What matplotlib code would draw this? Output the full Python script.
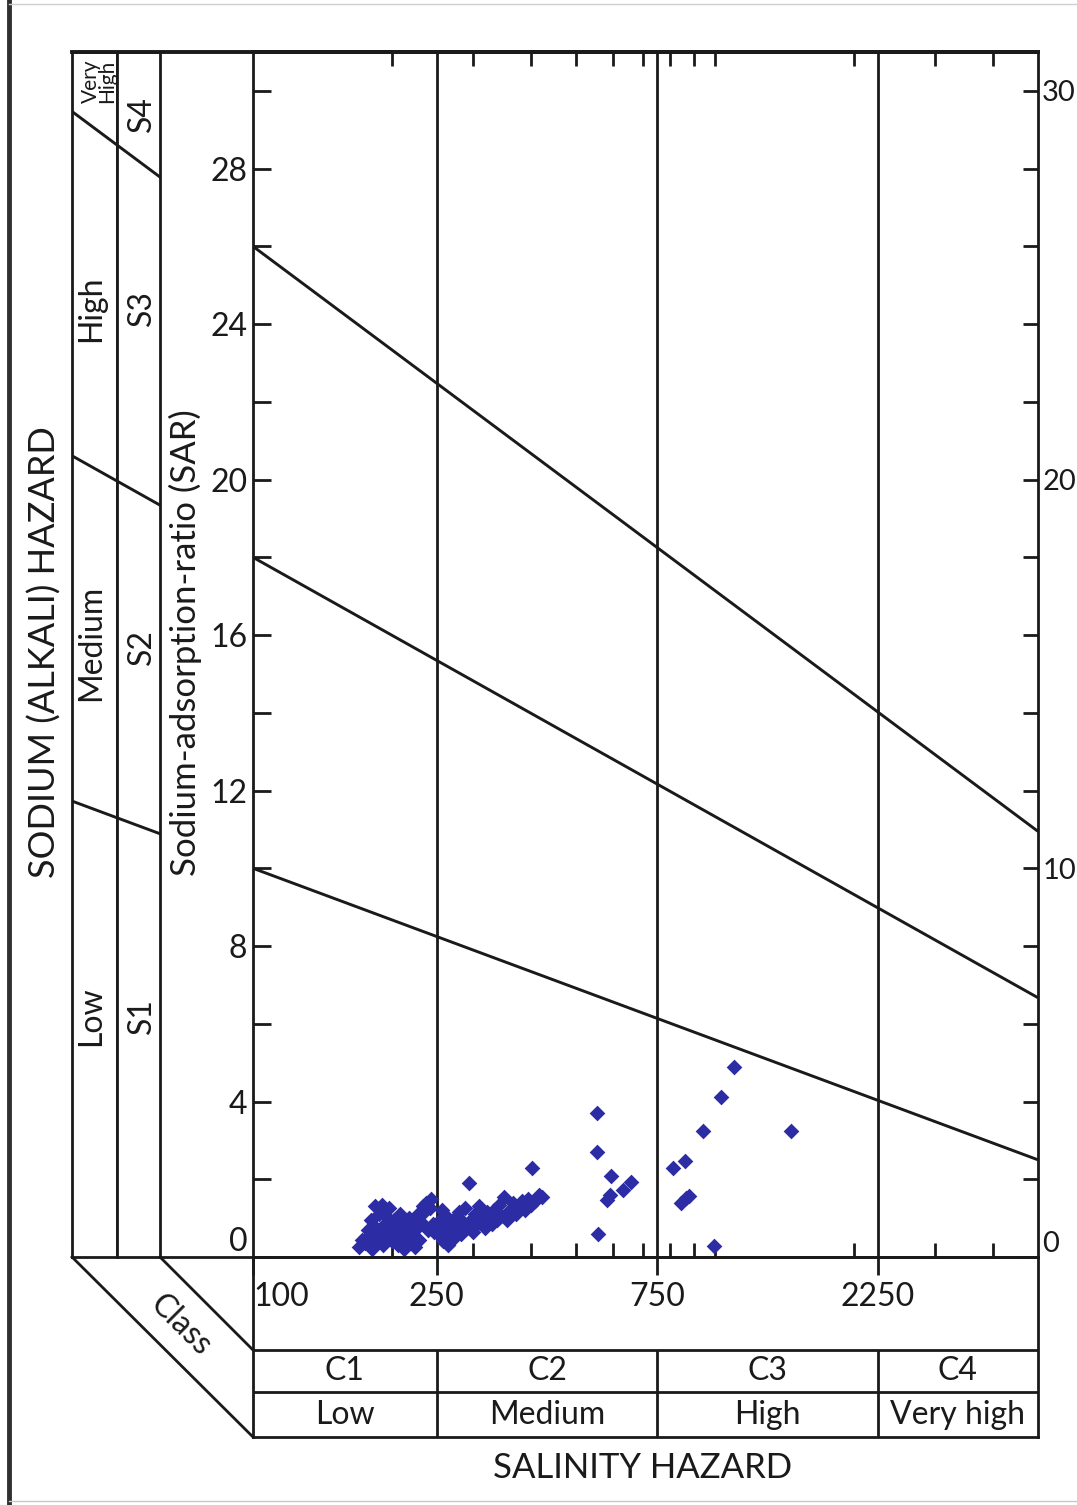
import numpy as np
import matplotlib
matplotlib.use("Agg")
import matplotlib.pyplot as plt
from matplotlib.lines import Line2D
from matplotlib.ticker import FixedLocator, FixedFormatter, NullFormatter
from matplotlib.transforms import blended_transform_factory

plt.rcParams['font.family'] = ['Lato', 'DejaVu Sans']

# ---------------- data ----------------
# salinity classes (EC, micromhos/cm)
class_edges = [100, 250, 750, 2250, 5000]
class_codes = ['C1', 'C2', 'C3', 'C4']
class_names = ['Low', 'Medium', 'High', 'Very high']

# sodium hazard boundary lines (SAR at EC = 100 and EC = 5000)
boundary_ec = [100, 5000]
boundary_s1_s2 = [10.0, 2.5]
boundary_s2_s3 = [18.0, 6.67]
boundary_s3_s4 = [26.0, 10.95]
sodium_codes = ['S1', 'S2', 'S3', 'S4']
sodium_names = ['Low', 'Medium', 'High', 'Very\nHigh']

# axis ticks
ec_tick_values = [100, 250, 750, 2250]
ec_tick_labels = ['100', '250', '750', '2250']
ec_minor_ticks = [200, 300, 400, 500, 600, 700, 800, 900, 1000, 2000, 3000, 4000]
sar_ticks = list(range(0, 31, 2))
sar_left_labels = [str(v) if (v % 4 == 0 and v <= 28) else '' for v in sar_ticks]
sar_right_labels = [str(v) if v % 10 == 0 else '' for v in sar_ticks]
sar_top = 31

# water samples: C1 cluster
ec_c1 = [170, 172, 175, 177, 178, 180, 181, 183, 184, 186, 187, 189, 190, 191, 193, 194,
         196, 197, 199, 200, 202, 203, 205, 206, 208, 209, 211, 212, 214, 215, 217, 218,
         220, 221, 223, 224, 226, 228, 229, 231, 233, 235, 237, 239, 241, 243, 245, 247]
sar_c1 = [0.25, 0.45, 0.35, 0.70, 0.55, 0.95, 0.20, 0.80, 1.30, 0.40, 1.10, 0.60, 1.35, 0.30, 0.85, 1.05,
          0.50, 1.25, 0.70, 0.40, 0.95, 0.60, 0.80, 0.30, 1.10, 0.55, 0.75, 0.20, 0.95, 0.45, 0.65, 1.00,
          0.35, 0.85, 0.55, 0.25, 0.75, 1.10, 0.45, 0.90, 1.30, 1.15, 1.40, 0.70, 1.25, 1.50, 0.85, 0.65]
# water samples: C2 cluster
ec_c2 = [252, 254, 256, 258, 260, 262, 264, 266, 268, 270, 273, 276, 279, 282, 285, 288,
         291, 293, 296, 299, 302, 305, 309, 313, 317, 321, 325, 329, 333, 337, 341, 345,
         350, 355, 360, 365, 370, 376, 382, 388, 394, 400, 402, 408, 415, 422]
sar_c2 = [0.60, 0.95, 1.20, 0.40, 0.75, 1.05, 0.30, 0.55, 0.85, 0.45, 1.00, 0.70, 1.15, 0.60, 0.90, 1.25,
          0.75, 1.90, 0.95, 0.65, 1.10, 0.85, 1.30, 0.90, 0.75, 1.15, 1.00, 0.85, 1.20, 0.95, 1.35, 1.05,
          1.55, 0.95, 1.20, 1.40, 1.10, 1.30, 1.45, 1.20, 1.50, 1.35, 2.29, 1.45, 1.60, 1.55]
# water samples: scattered higher-salinity samples
ec_high = [556, 556, 557, 596, 592, 584, 632, 658, 812, 860, 845, 866, 880, 944, 1029, 1097, 1458, 994]
sar_high = [3.70, 2.70, 0.59, 2.08, 1.59, 1.46, 1.72, 1.93, 2.29, 2.47, 1.39, 1.52, 1.57, 3.24, 4.12, 4.88, 3.24, 0.28]

# ---------------- style / layout ----------------
INK = '#1a1a1a'
DOT = '#2c2ca4'
LW = 2.0
FS = 23

W, H = 1077, 1505
fig = plt.figure(figsize=(W / 100, H / 100), dpi=100)
fig.patch.set_facecolor('white')


def fx(p):
    return p / W


def fy(p):
    return 1 - p / H


L, R, T, B = 253, 1038, 52, 1257
TB = 1437

ec_min, ec_max = class_edges[0], class_edges[-1]

# ---------------- main plot ----------------
ax = fig.add_axes([fx(L), fy(B), fx(R) - fx(L), fy(T) - fy(B)])
ax.set_xscale('log')
ax.set_xlim(ec_min, ec_max)
ax.set_ylim(0, sar_top)
for s in ax.spines.values():
    s.set_linewidth(LW)
    s.set_color(INK)
ax.spines['top'].set_linewidth(2.8)

for c in class_edges[1:-1]:
    ax.axvline(c, color=INK, lw=LW, zorder=2)
for b in (boundary_s1_s2, boundary_s2_s3, boundary_s3_s4):
    ax.plot(boundary_ec, b, color=INK, lw=2.1, zorder=2, solid_capstyle='butt')

ec_all = ec_c1 + ec_c2 + ec_high
sar_all = sar_c1 + sar_c2 + sar_high
ax.scatter(ec_all, sar_all, marker='D', s=64, color=DOT, linewidths=0, zorder=5)

ax.xaxis.set_major_locator(FixedLocator(ec_tick_values))
ax.xaxis.set_major_formatter(FixedFormatter(ec_tick_labels))
ax.xaxis.set_minor_locator(FixedLocator(ec_minor_ticks))
ax.xaxis.set_minor_formatter(NullFormatter())
ax.tick_params(axis='x', which='major', direction='out', length=13, width=LW, color=INK,
               labelsize=FS, labelcolor=INK, pad=5, top=False, bottom=True)
ax.tick_params(axis='x', which='minor', direction='in', length=10, width=LW, color=INK,
               top=True, bottom=True)

ax.yaxis.set_major_locator(FixedLocator(sar_ticks))
ax.yaxis.set_major_formatter(FixedFormatter(sar_left_labels))
ax.tick_params(axis='y', which='major', direction='in', length=13, width=LW, color=INK,
               labelsize=FS, labelcolor=INK, pad=4, left=True, right=False)

ax2 = ax.twinx()
ax2.set_ylim(ax.get_ylim())
ax2.yaxis.set_major_locator(FixedLocator(sar_ticks))
ax2.yaxis.set_major_formatter(FixedFormatter(sar_right_labels))
ax2.tick_params(axis='y', which='major', direction='in', length=11, width=LW, color=INK,
                labelsize=21, labelcolor=INK, pad=3)
for s in ax2.spines.values():
    s.set_visible(False)

# special alignment of a few labels
ax.xaxis.get_majorticklabels()[0].set_ha('left')
ax.yaxis.get_majorticklabels()[0].set_va('bottom')
ax2.yaxis.get_majorticklabels()[0].set_va('bottom')

ax.set_ylabel('Sodium-adsorption-ratio (SAR)', fontsize=25, color=INK)
ax.yaxis.label.set_va('center')
ax.yaxis.set_label_coords((185 - L) / (R - L), (B - 643) / (B - T))

# ---------------- left sodium-hazard panel ----------------
dec = (R - L) / np.log10(ec_max / ec_min)


def ec_at(p):
    return ec_min * 10 ** ((p - L) / dec)


side_cols = [(72, 117), (117, 160)]
sides = []
for (p0, p1) in side_cols:
    sa = fig.add_axes([fx(p0), fy(B), fx(p1) - fx(p0), fy(T) - fy(B)])
    sa.set_xscale('log')
    sa.set_xlim(ec_at(p0), ec_at(p1))
    sa.set_ylim(0, sar_top)
    sa.set_xticks([])
    sa.set_yticks([])
    sa.minorticks_off()
    for s in sa.spines.values():
        s.set_linewidth(LW)
        s.set_color(INK)
    for b in (boundary_s1_s2, boundary_s2_s3, boundary_s3_s4):
        sa.axline((boundary_ec[0], b[0]), (boundary_ec[1], b[1]), color=INK, lw=2.1)
    sides.append(sa)

name_y = [6.2, 15.8, 24.4, 30.25]
code_y = [6.2, 15.7, 24.4, 29.4]
tr1 = blended_transform_factory(sides[0].transAxes, sides[0].transData)
tr2 = blended_transform_factory(sides[1].transAxes, sides[1].transData)
for nm, yy in zip(sodium_names, name_y):
    multi = '\n' in nm
    sides[0].text(0.6 if multi else 0.42, yy, nm, rotation=90, ha='center', va='center',
                  fontsize=15 if multi else FS, color=INK, transform=tr1, linespacing=0.8)
for cd, yy in zip(sodium_codes, code_y):
    sides[1].text(0.58, yy, cd, rotation=90, ha='center', va='center',
                  fontsize=FS, color=INK, transform=tr2)

fig.text(fx(45), fy(652), 'SODIUM (ALKALI) HAZARD', rotation=90, ha='center', va='center',
         fontsize=26, color=INK)

# ---------------- bottom salinity-class table ----------------
tab = fig.add_axes([fx(L), fy(TB), fx(R) - fx(L), fy(B) - fy(TB)])
tab.patch.set_visible(False)
tab.set_xscale('log')
tab.set_xlim(ec_min, ec_max)
tab.set_ylim(0, 1)
tab.set_xticks([])
tab.set_yticks([])
tab.minorticks_off()
for s in tab.spines.values():
    s.set_linewidth(LW)
    s.set_color(INK)
row_top = (TB - 1350) / (TB - B)
row_mid = (TB - 1392) / (TB - B)
tab.axhline(row_top, color=INK, lw=LW)
tab.axhline(row_mid, color=INK, lw=LW)
tab.vlines(class_edges[1:-1], 0, row_top, color=INK, lw=LW)
edges = np.array(class_edges, dtype=float)
centers = np.sqrt(edges[:-1] * edges[1:])
for cx, code, name in zip(centers, class_codes, class_names):
    tab.text(cx, (row_top + row_mid) / 2, code, ha='center', va='center', fontsize=FS, color=INK)
    tab.text(cx, row_mid / 2, name, ha='center', va='center', fontsize=FS, color=INK)

fig.text(fx(643), fy(1468), 'SALINITY HAZARD', ha='center', va='center', fontsize=25, color=INK)
fig.text(fx(181), fy(1325), 'Class', rotation=-45, ha='center', va='center', fontsize=FS, color=INK)

# ---------------- frame lines ----------------
def fig_line(xs, ys, **kw):
    fig.add_artist(Line2D([fx(v) for v in xs], [fy(v) for v in ys],
                          transform=fig.transFigure, color=kw.pop('color', INK), **kw))


fig_line([72, R], [T, T], lw=2.8)
fig_line([160, L], [B, B], lw=LW)
fig_line([72, L], [B, TB], lw=LW)
fig_line([160, L], [B, 1350], lw=LW)
# page edges of the scan
fig_line([9, 9], [0, H], lw=3.5, color='#303030')
fig_line([9, W], [4, 4], lw=1.0, color='#d0d0d0')
fig_line([9, W], [1501, 1501], lw=1.0, color='#c8c8c8')

fig.savefig('out.png', dpi=100, facecolor='white')
